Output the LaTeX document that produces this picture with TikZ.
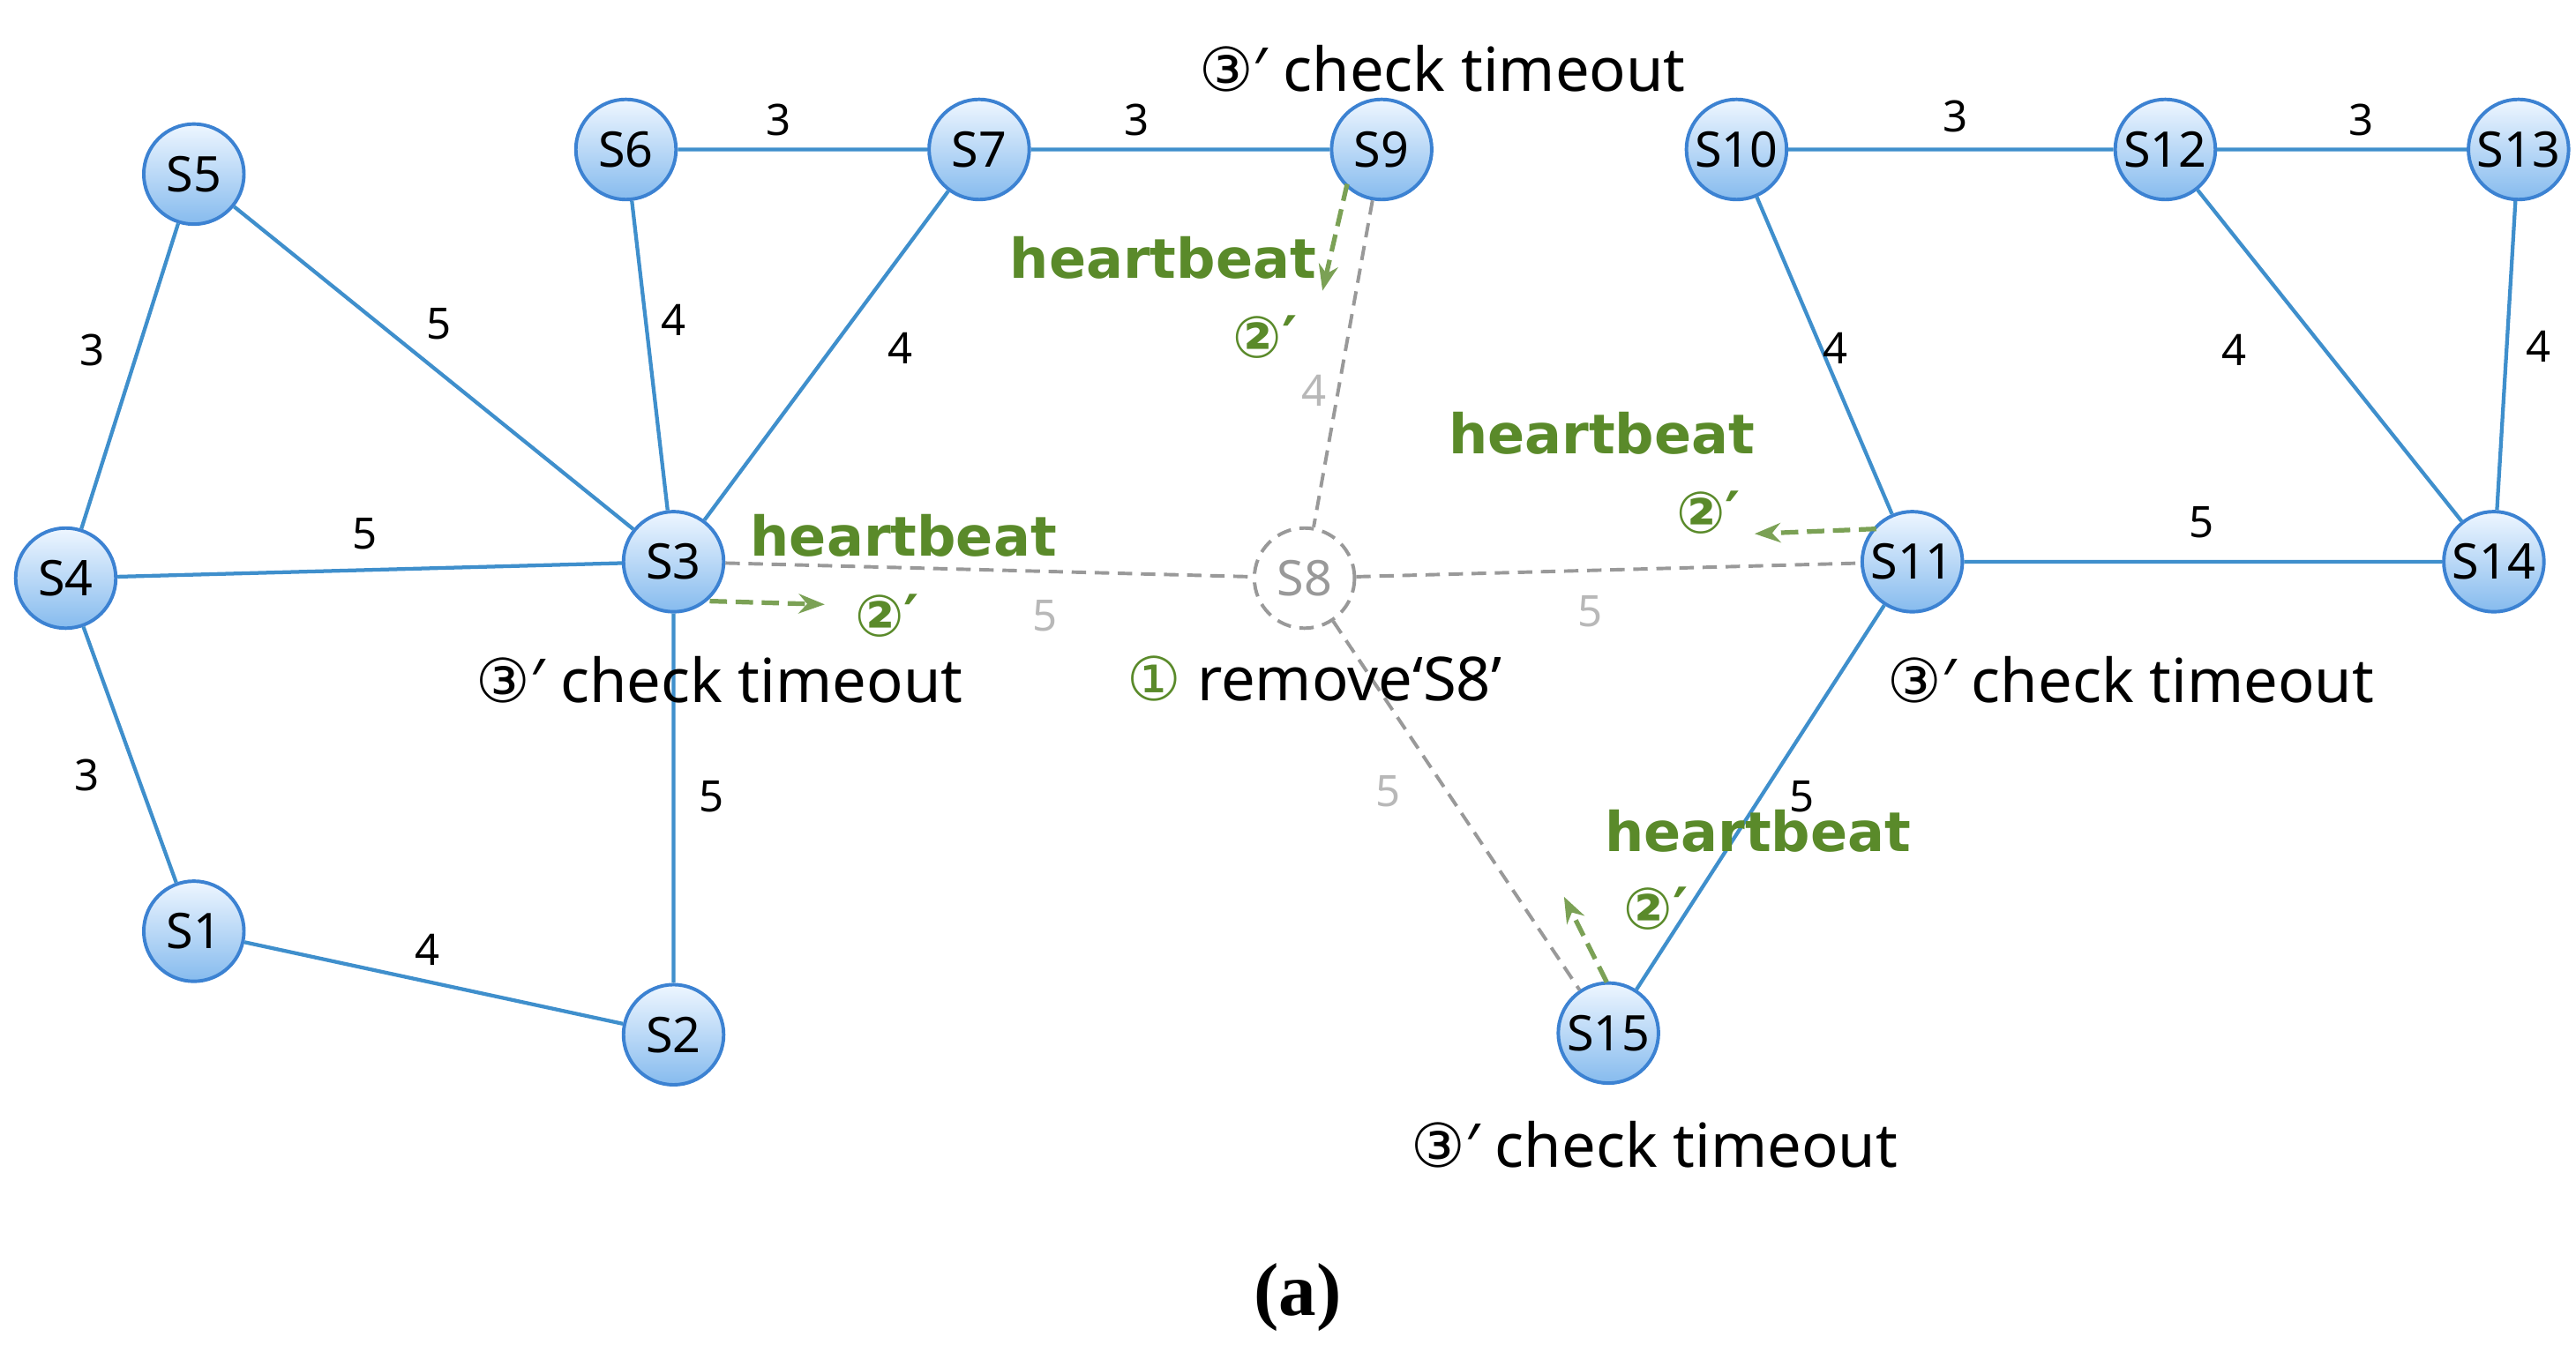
\documentclass[tikz,border=0pt]{standalone}
\usepackage{fontspec}
\setmainfont{Noto Sans}
\newfontfamily\djv{DejaVu Sans}
\newfontfamily\serf{Liberation Serif}
\usetikzlibrary{arrows.meta}
\definecolor{ntop}{HTML}{EEF6FF}
\definecolor{nbot}{HTML}{86BBEE}
\definecolor{nbor}{HTML}{3C82D2}
\definecolor{edge}{HTML}{3F8FCC}
\definecolor{grn}{HTML}{5A8A2A}
\definecolor{dg}{HTML}{999999}
\begin{document}
\begin{tikzpicture}[x=0.02cm,y=-0.02cm,
 sw/.style={circle,minimum size=1.22cm,inner sep=0pt,top color=ntop,bottom color=nbot,draw=nbor,line width=1.2pt,font=\fontsize{17}{17}\selectfont},
 ed/.style={draw=edge,line width=1.3pt},
 de/.style={draw=dg,dash pattern=on 5pt off 3pt,line width=1.2pt},
 lb/.style={font=\fontsize{15}{15}\selectfont},
 glb/.style={font=\fontsize{15}{15}\selectfont,text=dg!70},
 hb/.style={font=\djv\bfseries\fontsize{19}{19}\selectfont,text=grn},
 c2/.style={font=\djv\bfseries\fontsize{20}{20}\selectfont,text=grn},
 ct/.style={font=\fontsize{21}{21}\selectfont},
 ga/.style={draw=grn!80,dash pattern=on 6pt off 3pt,line width=1.6pt,-{Stealth[length=9pt]}}]
\useasboundingbox (0,0) rectangle (1568,832);
\node[sw] (S5) at (118,106) {S5};
\node[sw] (S6) at (381,91) {S6};
\node[sw] (S7) at (596,91) {S7};
\node[sw] (S9) at (841,91) {S9};
\node[sw] (S10) at (1057,91) {S10};
\node[sw] (S12) at (1318,91) {S12};
\node[sw] (S13) at (1533,91) {S13};
\node[sw] (S4) at (40,352) {S4};
\node[sw] (S3) at (410,342) {S3};
\node[circle,minimum size=1.22cm,inner sep=0pt,draw=dg,dash pattern=on 5pt off 3pt,fill=white,line width=1.2pt,text=dg,font=\fontsize{17}{17}\selectfont] (S8) at (794,352) {S8};
\node[sw] (S11) at (1164,342) {S11};
\node[sw] (S14) at (1518,342) {S14};
\node[sw] (S1) at (118,567) {S1};
\node[sw] (S2) at (410,630) {S2};
\node[sw] (S15) at (979,629) {S15};
\draw[ed] (S6)--(S7) (S7)--(S9) (S10)--(S12) (S12)--(S13) (S5)--(S4) (S5)--(S3) (S6)--(S3) (S7)--(S3) (S4)--(S3) (S4)--(S1) (S1)--(S2) (S3)--(S2) (S10)--(S11) (S12)--(S14) (S13)--(S14) (S11)--(S14) (S11)--(S15);
\draw[de] (S9)--(S8) (S3)--(S8) (S8)--(S11) (S8)--(S15);
\node[lb] at (474,73) {3};
\node[lb] at (692,73) {3};
\node[lb] at (1190,71) {3};
\node[lb] at (1437,73) {3};
\node[lb] at (56,213) {3};
\node[lb] at (267,197) {5};
\node[lb] at (410,195) {4};
\node[lb] at (548,212) {4};
\node[lb] at (222,325) {5};
\node[lb] at (53,472) {3};
\node[lb] at (260,578) {4};
\node[lb] at (433,485) {5};
\node[lb] at (1117,212) {4};
\node[lb] at (1360,213) {4};
\node[lb] at (1545,211) {4};
\node[lb] at (1340,318) {5};
\node[lb] at (1097,485) {5};
\node[glb] at (800,238) {4};
\node[glb] at (636,375) {5};
\node[glb] at (968,372) {5};
\node[glb] at (845,482) {5};
\coordinate (a1) at (820,112); \coordinate (b1) at (805,177);
\coordinate (a2) at (432,366); \coordinate (b2) at (502,368);
\coordinate (a3) at (1142,322); \coordinate (b3) at (1068,325);
\coordinate (a4) at (978,598); \coordinate (b4) at (952,546);
\draw[ga] (a1)--(b1); \draw[ga] (a2)--(b2); \draw[ga] (a3)--(b3); \draw[ga] (a4)--(b4);
\node[hb] at (708,157) {heartbeat};
\node[c2] at (770,205) {②′};
\node[hb] at (550,326) {heartbeat};
\node[c2] at (540,375) {②′};
\node[hb] at (975,264) {heartbeat};
\node[c2] at (1040,312) {②′};
\node[hb] at (1070,506) {heartbeat};
\node[c2] at (1008,553) {②′};
\node[ct] at (878,42) {{\djv ③}′ check timeout};
\node[ct] at (438,414) {{\djv ③}′ check timeout};
\node[ct] at (1297,414) {{\djv ③}′ check timeout};
\node[ct] at (1007,697) {{\djv ③}′ check timeout};
\node[ct] at (800,413) {{\djv\color{grn}①} remove‘S8’};
\node[font=\serf\bfseries\fontsize{26}{26}\selectfont] at (790,790) {(a)};
\end{tikzpicture}
\end{document}
